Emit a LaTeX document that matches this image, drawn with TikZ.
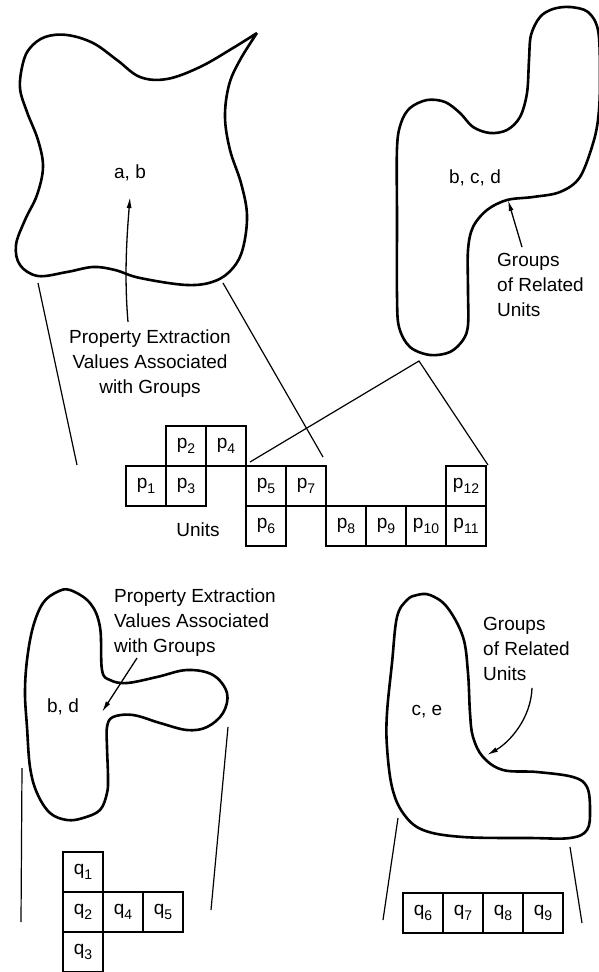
\documentclass[tikz,border=0pt]{standalone}
\usepackage{fontspec}
\setmainfont{Liberation Sans}
\usetikzlibrary{positioning,arrows.meta}

\newcommand\ulab[2]{#1\raisebox{-0.55ex}{\fontsize{14}{14}\selectfont #2}}

\tikzset{
  blob/.style={line width=2.6pt, line join=round},
  leader/.style={line width=1.2pt},
  cell/.style={draw, line width=1.6pt, minimum width=40pt, minimum height=40pt,
    inner sep=0pt, outer sep=0pt, font=\fontsize{19}{25}\selectfont},
  lab/.style={inner sep=0pt, font=\fontsize{19}{25}\selectfont},
  ptr/.style={line width=1.3pt, -{Latex[length=11pt,width=5pt]}},
}

\begin{document}
\begin{tikzpicture}[x=1pt, y=-1pt]
	\useasboundingbox (0,0) rectangle (599,972);
	\clip (0,0) rectangle (599,972);

	% groups of related units
	\draw[blob] plot[smooth, tension=0.6] coordinates {(257,33) (233,48) (200,67) (167,79) (140,77) (117,60) (93,43) (67,35) (45,37) (30,48) (23,63) (20,88) (27,112) (38,140) (43,167) (37,195) (25,220) (16,245) (20,265) (38,276) (67,272) (93,267) (115,270) (140,278) (187,285) (215,281) (233,268) (243,248) (247,215) (241,183) (230,150) (225,117) (229,85) (240,60) (257,33)};
	\draw[blob] plot[smooth cycle, tension=0.55] coordinates {(570,7) (588,12) (598,30) (600,70) (599,110) (594,140) (580,177) (560,192) (533,197) (507,200) (487,210) (473,227) (468,250) (468,290) (468,325) (463,340) (450,352) (430,355) (410,347) (399,327) (397,295) (397,220) (397,148) (401,123) (410,108) (427,100) (445,102) (460,113) (473,127) (490,133) (507,130) (520,117) (527,93) (529,60) (531,35) (540,17) (553,9)};
	\draw[blob] plot[smooth cycle, tension=0.6] coordinates {(70,590) (90,603) (100,627) (102,670) (110,680) (127,683) (157,677) (187,670) (213,675) (227,693) (223,713) (207,727) (187,730) (160,723) (133,715) (113,717) (107,727) (107,747) (108,777) (107,793) (100,810) (83,818) (67,820) (50,813) (37,793) (30,767) (27,727) (25,693) (27,660) (33,627) (43,603) (57,592)};
	\draw[blob] plot[smooth cycle, tension=0.6] coordinates {(417,595) (407,600) (397,617) (392,663) (387,713) (387,747) (392,787) (403,813) (423,830) (463,837) (530,838) (570,838) (587,830) (590,810) (587,787) (573,777) (537,772) (503,770) (483,757) (473,737) (470,713) (468,673) (463,637) (447,607) (430,595)};

	\node[lab] (grpab) at (130,173) {a, b};
	\node[lab] (grpbcd) at (475,178) {b, c, d};
	\node[lab] (grpbd) at (63,707) {b, d};
	\node[lab] (grpce) at (427,712) {c, e};

	\node[lab, align=center] (propA) at (150,364) {Property Extraction\\Values Associated\\with Groups};
	\node[lab, align=left, anchor=west] (relA) at (497,285) {Groups\\of Related\\Units};
	\node[lab, align=left, anchor=west] (propB) at (114,623) {Property Extraction\\Values Associated\\with Groups};
	\node[lab, align=left, anchor=west] (relB) at (483,649) {Groups\\of Related\\Units};

	% units
	\node[cell, anchor=north west] (p1) at (126,466) {\ulab{p}{1}};
	\node[cell, right=0pt of p1] (p3) {\ulab{p}{3}};
	\node[cell, above=0pt of p3] (p2) {\ulab{p}{2}};
	\node[cell, right=0pt of p2] (p4) {\ulab{p}{4}};
	\node[cell, anchor=north west] (p5) at (246,466) {\ulab{p}{5}};
	\node[cell, below=0pt of p5] (p6) {\ulab{p}{6}};
	\node[cell, right=0pt of p5] (p7) {\ulab{p}{7}};
	\node[cell, anchor=north west] (p8) at (326,506) {\ulab{p}{8}};
	\node[cell, right=0pt of p8] (p9) {\ulab{p}{9}};
	\node[cell, right=0pt of p9] (p10) {\ulab{p}{10}};
	\node[cell, right=0pt of p10] (p11) {\ulab{p}{11}};
	\node[cell, above=0pt of p11] (p12) {\ulab{p}{12}};
	\node[lab] (units) at (198,530) {Units};

	\node[cell, anchor=north west] (q1) at (63,852) {\ulab{q}{1}};
	\node[cell, below=0pt of q1] (q2) {\ulab{q}{2}};
	\node[cell, below=0pt of q2] (q3) {\ulab{q}{3}};
	\node[cell, right=0pt of q2] (q4) {\ulab{q}{4}};
	\node[cell, right=0pt of q4] (q5) {\ulab{q}{5}};
	\node[cell, anchor=north west] (q6) at (403,893) {\ulab{q}{6}};
	\node[cell, right=0pt of q6] (q7) {\ulab{q}{7}};
	\node[cell, right=0pt of q7] (q8) {\ulab{q}{8}};
	\node[cell, right=0pt of q8] (q9) {\ulab{q}{9}};

	% leaders
	\coordinate (abL) at (38,283);
	\coordinate (abLend) at (77,465);
	\coordinate (abR) at (223,283);
	\coordinate (apex) at (419,361);
	\coordinate (bdL) at (22,768);
	\coordinate (bdLend) at (21,922);
	\coordinate (bdR) at (228,727);
	\coordinate (bdRend) at (211,910);
	\coordinate (ceL) at (398,818);
	\coordinate (ceLend) at (383,920);
	\coordinate (ceR) at (570,847);
	\coordinate (ceRend) at (582,923);
	\draw[leader] (abL) -- (abLend);
	\draw[leader] (abR) -- ([shift={(-3,-9)}]p7.north east);
	\draw[leader] ([shift={(4,-4)}]p5.north west) -- (apex) -- ([shift={(2,-1)}]p12.north east);
	\draw[leader] (bdL) -- (bdLend);
	\draw[leader] (bdR) -- (bdRend);
	\draw[leader] (ceL) -- (ceLend);
	\draw[leader] (ceR) -- (ceRend);

	% pointers
	\coordinate (abTip) at (130,197);
	\coordinate (bcdTip) at (508,200);
	\coordinate (bdTip) at (102,712);
	\coordinate (ceTip) at (487,755);
	\draw[ptr] ([xshift=-22pt, yshift=8pt]propA.north) .. controls (124,275) and (127,235) .. (abTip);
	\draw[ptr] ([xshift=25pt, yshift=6pt]relA.north west) -- (bcdTip);
	\draw[ptr] ([xshift=23pt, yshift=-1pt]propB.south west) -- (bdTip);
	\draw[ptr] ([xshift=49pt, yshift=-7pt]relB.south west) .. controls (531,718) and (510,742) .. (ceTip);
\end{tikzpicture}
\end{document}
